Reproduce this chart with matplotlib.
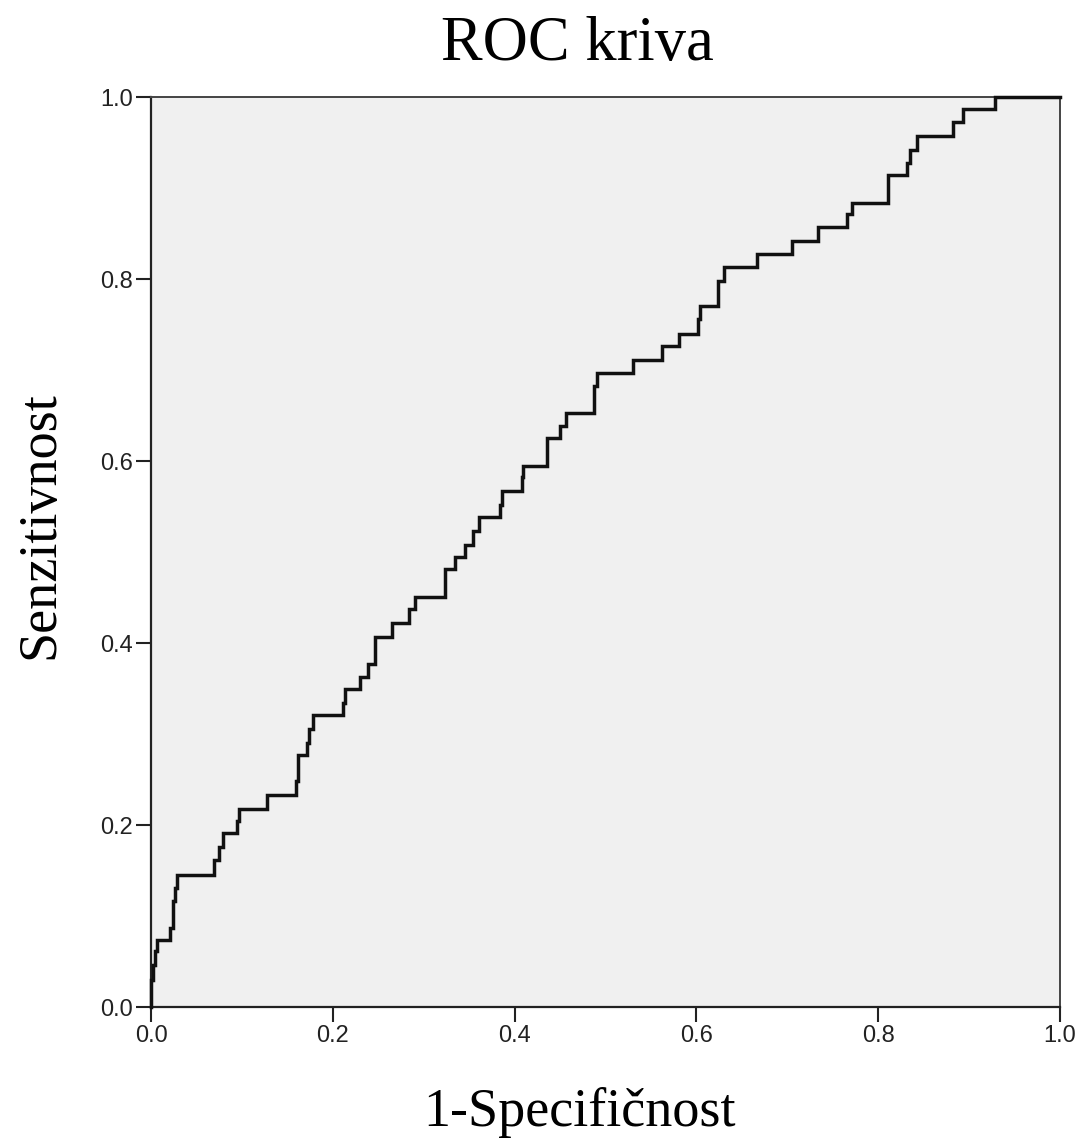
import matplotlib
matplotlib.use("Agg")
import matplotlib.pyplot as plt
import numpy as np

# ROC points (top corner of each riser), 1-specificity vs sensitivity
fpr = [0.000, 0.000, 0.002, 0.004, 0.007, 0.021, 0.024, 0.026, 0.029, 0.069,
       0.075, 0.079, 0.095, 0.097, 0.128, 0.160, 0.162, 0.172, 0.174, 0.178,
       0.211, 0.213, 0.230, 0.239, 0.246, 0.265, 0.284, 0.290, 0.323, 0.334,
       0.345, 0.354, 0.361, 0.384, 0.386, 0.408, 0.409, 0.436, 0.450, 0.457,
       0.487, 0.491, 0.530, 0.562, 0.581, 0.602, 0.604, 0.624, 0.630, 0.667,
       0.705, 0.734, 0.766, 0.771, 0.811, 0.832, 0.835, 0.843, 0.882, 0.893,
       0.928, 1.000]
tpr = [0.000, 0.030, 0.046, 0.061, 0.074, 0.087, 0.116, 0.131, 0.145, 0.162,
       0.176, 0.191, 0.204, 0.218, 0.233, 0.248, 0.277, 0.290, 0.305, 0.321,
       0.334, 0.349, 0.363, 0.377, 0.407, 0.422, 0.437, 0.451, 0.481, 0.494,
       0.508, 0.523, 0.538, 0.552, 0.567, 0.582, 0.595, 0.625, 0.638, 0.653,
       0.682, 0.697, 0.711, 0.726, 0.740, 0.756, 0.770, 0.798, 0.813, 0.827,
       0.842, 0.857, 0.871, 0.884, 0.914, 0.928, 0.942, 0.957, 0.972, 0.987,
       1.000, 1.000]
ticks = [0.0, 0.2, 0.4, 0.6, 0.8, 1.0]
tick_labels = ["0.0", "0.2", "0.4", "0.6", "0.8", "1.0"]

title = "ROC kriva"
xlabel = "1-Specifičnost"
ylabel = "Senzitivnost"

fig = plt.figure(figsize=(10.8, 11.44), dpi=100)
ax = fig.add_axes([151/1080, 1 - 1007/1144, 909/1080, 910/1144])
ax.set_facecolor("#f0f0f0")

# horizontal run, then rise at each new false-positive rate
ax.plot(fpr, tpr, drawstyle="steps-post", color="#111111", lw=2.5,
        solid_joinstyle="miter", zorder=3, clip_on=False)

ax.set_xlim(0, 1)
ax.set_ylim(0, 1)
ax.set_xticks(ticks)
ax.set_xticklabels(tick_labels)
ax.set_yticks(ticks)
ax.set_yticklabels(tick_labels)
for lab in ax.get_xticklabels() + ax.get_yticklabels():
    lab.set_fontfamily("Liberation Sans")
    lab.set_fontsize(17)
    lab.set_color("#222222")
ax.tick_params(direction="out", length=11, width=1.5, color="#222222", pad=2)

for s in ["left", "bottom"]:
    ax.spines[s].set_linewidth(1.6)
    ax.spines[s].set_color("#222222")
for s in ["top", "right"]:
    ax.spines[s].set_linewidth(1.4)
    ax.spines[s].set_color("#444444")

fig.text(0.535, 1 - 45/1144, title, ha="center", va="center",
         fontfamily="Liberation Serif", fontsize=45)
fig.text(0.537, 1 - 1113/1144, xlabel, ha="center", va="center",
         fontfamily="Liberation Serif", fontsize=39)
fig.text(40/1080, 1 - 525/1144, ylabel, ha="center", va="center", rotation=90,
         fontfamily="Liberation Serif", fontsize=39)

fig.savefig("out.png", dpi=100, facecolor="white")
